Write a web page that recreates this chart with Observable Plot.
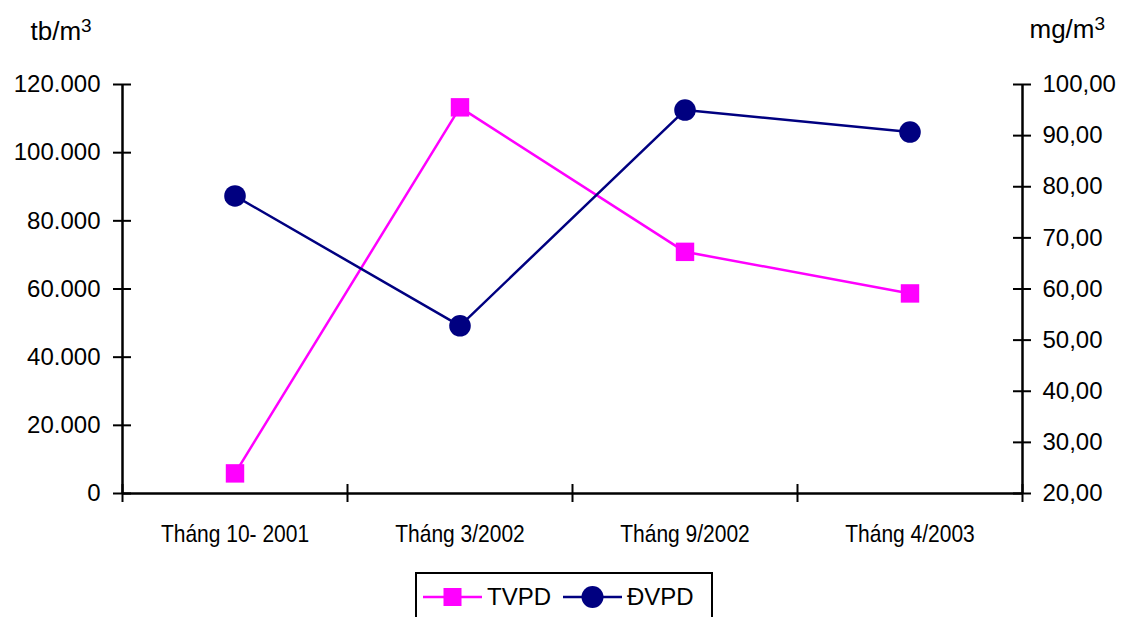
<!DOCTYPE html>
<html>
<head>
<meta charset="utf-8">
<script src="https://cdn.jsdelivr.net/npm/d3@7"></script>
<script src="https://cdn.jsdelivr.net/npm/@observablehq/plot@0.6"></script>
<style>
  html, body { margin: 0; background: #fff; overflow: hidden; }
  body { font-family: "Liberation Sans", Arial, sans-serif; color: #000; }
  #chart svg { display: block; }
  #legend {
    margin-left: 415px; margin-top: 12px;
    width: 298px; height: 60px; box-sizing: border-box;
    border: 2px solid #000; padding: 11px 0 0 6px;
    display: flex; align-items: flex-start; font-size: 24px;
  }
  #legend .key { display: flex; align-items: center; height: 24px; line-height: 24px; }
  #legend .key + .key { margin-left: 12px; }
  #legend svg { margin-right: 5px; display: block; }
</style>
</head>
<body>
<div id="chart"></div>
<div id="legend"></div>
<script>
// Sampling periods
const categories = ["Tháng 10- 2001", "Tháng 3/2002", "Tháng 9/2002", "Tháng 4/2003"];

// TVPD, left axis (tb/m3)
const tvpd = [5900, 113300, 70900, 58700];
// ĐVPD, right axis (mg/m3)
const dvpd = [78.2, 52.8, 95.0, 90.7];

const seriesNames = ["TVPD", "ĐVPD"];
const seriesColors = ["#FF00FF", "#000080"];
const seriesSymbols = ["square", "circle"];

// units: base text and exponent
const leftUnit = ["tb/m", "3"];
const rightUnit = ["mg/m", "3"];
const leftDomain = [0, 120000];
const rightDomain = [20, 100];
const leftTicks = [0, 20000, 40000, 60000, 80000, 100000, 120000];
const rightTicks = [20, 30, 40, 50, 60, 70, 80, 90, 100];

const W = 1122, H = 560;
const M = {top: 84, right: 100, bottom: 67, left: 122};
const plotW = W - M.left - M.right;
const plotH = H - M.top - M.bottom;

// Vietnamese number style: "." for thousands, "," for decimals
const vn = d3.formatLocale({decimal: ",", thousands: ".", grouping: [3], currency: ["", ""]});
const fmtLeft = vn.format(",.0f");
const fmtRight = vn.format(".2f");

// The right-hand series shares the y scale through a linear mapping
const toLeft = v => (v - rightDomain[0]) / (rightDomain[1] - rightDomain[0]) * (leftDomain[1] - leftDomain[0]) + leftDomain[0];
const fromLeft = y => (y - leftDomain[0]) / (leftDomain[1] - leftDomain[0]) * (rightDomain[1] - rightDomain[0]) + rightDomain[0];

const rows = categories.map((c, i) => ({cat: c, pos: i + 0.5, tvpd: tvpd[i], dvpd: toLeft(dvpd[i])}));
const bandEdges = d3.range(categories.length + 1);

const chart = Plot.plot({
  width: W, height: H,
  marginTop: M.top, marginRight: M.right, marginBottom: M.bottom, marginLeft: M.left,
  style: {fontFamily: "'Liberation Sans', Arial, sans-serif", color: "#000", background: "#fff", overflow: "visible"},
  x: {domain: [0, categories.length]},
  y: {domain: leftDomain},
  marks: [
    // tick labels
    Plot.axisY(leftTicks, {anchor: "left", tickSize: 0, tickPadding: 22, tickFormat: fmtLeft, fontSize: 24, label: null}),
    Plot.axisY(rightTicks.map(toLeft), {anchor: "right", tickSize: 0, tickPadding: 20, tickFormat: y => fmtRight(fromLeft(y)), fontSize: 24, label: null}),
    Plot.axisX(rows.map(d => d.pos), {anchor: "bottom", tickSize: 0, tickPadding: 31, tickFormat: x => categories[Math.floor(x)], fontSize: 24, label: null}),
    // axis lines
    Plot.ruleY([leftDomain[0]], {stroke: "#000", strokeWidth: 2.5}),
    Plot.ruleX([0, categories.length], {stroke: "#000", strokeWidth: 2.5}),
    // cross tick marks
    Plot.ruleY(leftTicks, {insetLeft: -9, insetRight: plotW - 9, stroke: "#000", strokeWidth: 2}),
    Plot.ruleY(rightTicks.map(toLeft), {insetLeft: plotW - 9, insetRight: -9, stroke: "#000", strokeWidth: 2}),
    Plot.ruleX(bandEdges, {insetTop: plotH - 9, insetBottom: -9, stroke: "#000", strokeWidth: 2}),
    // unit labels
    Plot.text([leftUnit[0]], {frameAnchor: "top-left", text: d => d, textAnchor: "start", lineAnchor: "bottom", dx: -92, dy: -45, fontSize: 26}),
    Plot.text([rightUnit[0]], {frameAnchor: "top-right", text: d => d, textAnchor: "start", lineAnchor: "bottom", dx: 7, dy: -47, fontSize: 26}),
    // TVPD
    Plot.line(rows, {x: "pos", y: "tvpd", stroke: seriesColors[0], strokeWidth: 2.5}),
    Plot.dot(rows, {x: "pos", y: "tvpd", symbol: seriesSymbols[0], r: 10.4, fill: seriesColors[0], stroke: "none"}),
    // ĐVPD
    Plot.line(rows, {x: "pos", y: "dvpd", stroke: seriesColors[1], strokeWidth: 2.5}),
    Plot.dot(rows, {x: "pos", y: "dvpd", symbol: seriesSymbols[1], r: 10.8, fill: seriesColors[1], stroke: "none"})
  ]
});

// category labels are set in a narrower face
d3.select(chart).selectAll("g[aria-label='x-axis tick label'] text")
  .attr("transform", function() { return (this.getAttribute("transform") || "") + " scale(0.875,1)"; });

// raised exponent on the unit labels
[leftUnit, rightUnit].forEach(([base, exp]) => {
  d3.select(chart).selectAll("text")
    .filter(function() { return this.textContent === base; })
    .append("tspan").attr("font-size", 19).attr("dy", "-0.42em").text(exp);
});

document.getElementById("chart").append(chart);

// legend
const legend = d3.select("#legend");
seriesNames.forEach((name, i) => {
  const key = legend.append("span").attr("class", "key");
  const sw = key.append("svg").attr("width", 59).attr("height", 24);
  sw.append("line").attr("x1", 0).attr("x2", 59).attr("y1", 12).attr("y2", 12)
    .attr("stroke", seriesColors[i]).attr("stroke-width", 2.5);
  if (seriesSymbols[i] === "square") {
    sw.append("rect").attr("x", 20.5).attr("y", 3).attr("width", 18).attr("height", 18).attr("fill", seriesColors[i]);
  } else {
    sw.append("circle").attr("cx", 29.5).attr("cy", 12).attr("r", 11).attr("fill", seriesColors[i]);
  }
  key.append("span").text(name);
});
</script>
</body>
</html>
